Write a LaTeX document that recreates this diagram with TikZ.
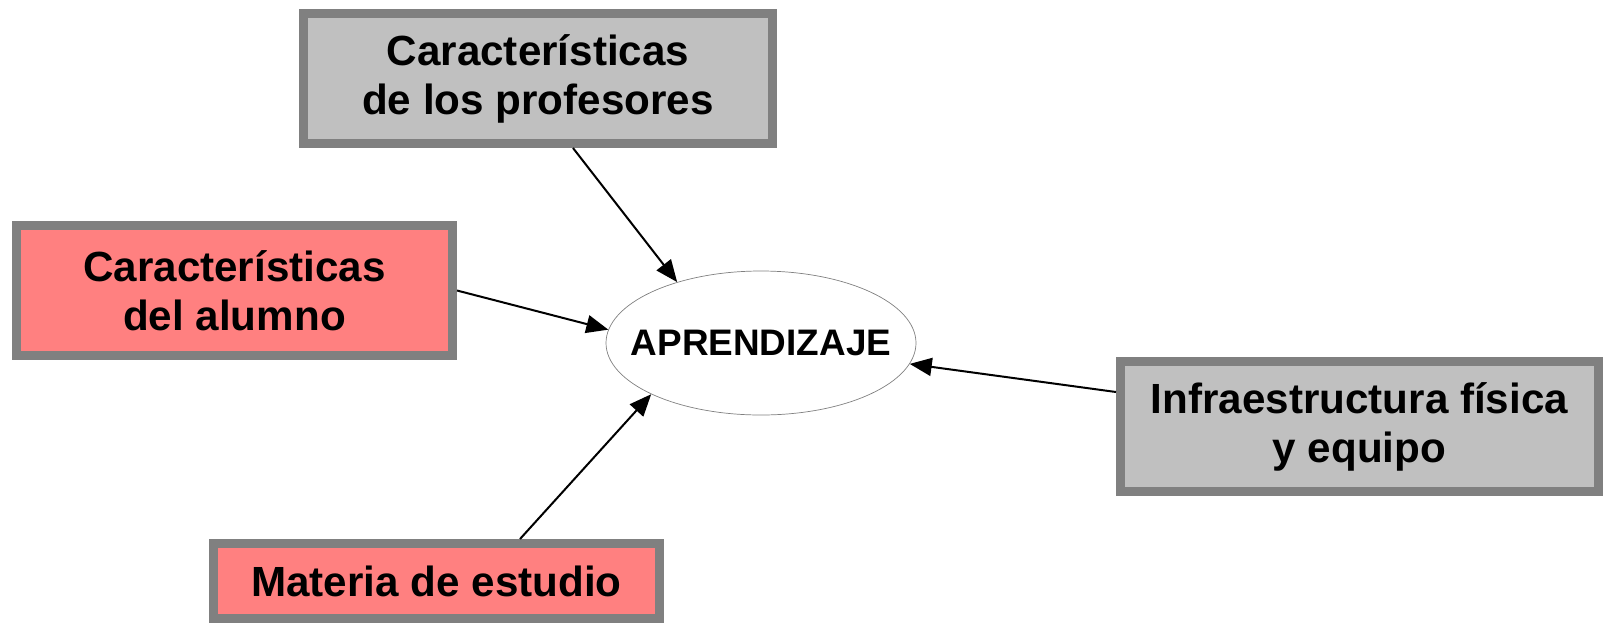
\documentclass[tikz,border=0pt]{standalone}
\usepackage{fontspec}
\setmainfont{Liberation Sans}
\usetikzlibrary{
		calc,
		positioning,
		arrows.meta,
		shapes.geometric
	}
\definecolor{cajagris}{RGB}{192,192,192}
\definecolor{cajarosa}{RGB}{255,128,128}
\definecolor{borde}{RGB}{128,128,128}
\tikzset{
		>={Triangle[length=0.44cm, width=0.36cm]}
	}

\begin{document}
\begin{tikzpicture}[
					factor/.style={rectangle, draw=borde, line width=0.18cm, inner sep=0pt, minimum height=2.6cm, align=center, font=\fontsize{24}{27.8}\selectfont\bfseries},
					grisbox/.style={factor, fill=cajagris},
					rosabox/.style={factor, fill=cajarosa},
					centro/.style={ellipse, draw=borde, line width=0.4pt, inner sep=0pt, minimum width=6.2cm, minimum height=2.88cm, font=\fontsize{21}{25}\selectfont\bfseries},
					influencia/.style={->, line width=0.04cm}]
		\useasboundingbox (0,0) rectangle (32.1,-12.46);
		\node[centro] (aprendizaje) at (15.22,-6.86) {\makebox[0pt]{APRENDIZAJE}};
		\node[grisbox, minimum width=9.38cm] (profesores) at (10.76,-1.57) {Características\\de los profesores};
		\node[rosabox, minimum width=8.72cm] (alumno) at (4.69,-5.81) {Características\\del alumno};
		\node[grisbox, minimum width=9.56cm] (infraestructura) at (27.19,-8.53) {Infraestructura física\\y equipo};
		\node[rosabox, minimum width=8.92cm, minimum height=1.5cm] (materia) at (8.73,-11.62) {Materia de estudio};
		% flechas hacia el centro
		\draw[influencia] ([xshift=0.7cm]profesores.south) -- (aprendizaje.144);
		\draw[influencia] (alumno.east) -- (aprendizaje.175);
		\draw[influencia] ([xshift=1.67cm]materia.north) -- (aprendizaje.205);
		\draw[influencia] ([yshift=0.69cm]infraestructura.west) -- (aprendizaje.352);
	\end{tikzpicture}
\end{document}
